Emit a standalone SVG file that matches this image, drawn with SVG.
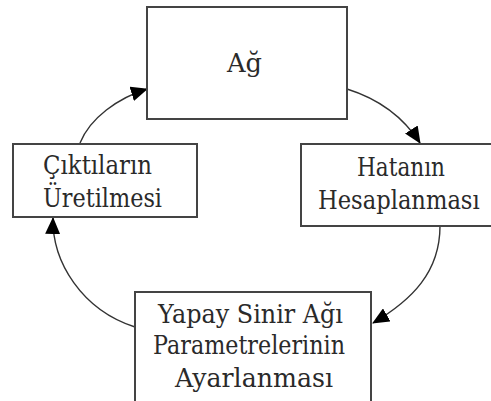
<svg xmlns="http://www.w3.org/2000/svg" width="491" height="401" viewBox="0 0 491 401">
<style>
.box{fill:#fff;stroke:#444;stroke-width:2}
.lbl{font-family:'DejaVu Serif','Liberation Serif',serif;font-size:26px;fill:#2a2a2a}
.conn{fill:none;stroke:#333;stroke-width:1.4}
</style>
<defs>
<marker id="ah" markerUnits="userSpaceOnUse" markerWidth="17" markerHeight="15" viewBox="0 0 17 15" refX="16" refY="7.5" orient="auto">
<path d="M0,0 L17,7.5 L0,15 z" fill="#000"/>
</marker>
</defs>
<rect width="491" height="401" fill="#fff"/>
<g id="connectors">
<path class="conn" d="M347,89 Q395,104 420,143" marker-end="url(#ah)"/>
<path class="conn" d="M440,226 C440,272 412,300 373,323" marker-end="url(#ah)"/>
<path class="conn" d="M135,327 C82,310 52,262 53,218" marker-end="url(#ah)"/>
<path class="conn" d="M80,143 C90,118 118,98 147,89" marker-end="url(#ah)"/>
</g>
<g id="node-ag">
<rect class="box" x="147" y="7" width="200" height="112"/>
<text class="lbl" x="227" y="72" textLength="35" lengthAdjust="spacingAndGlyphs">Ağ</text>
</g>
<g id="node-hata">
<rect class="box" x="301" y="144" width="191" height="82"/>
<text class="lbl" x="357" y="176" textLength="88" lengthAdjust="spacingAndGlyphs">Hatanın</text>
<text class="lbl" transform="translate(318,209) scale(0.87,1)" x="0" y="0">Hesaplanması</text>
</g>
<g id="node-param">
<rect class="box" x="135" y="292" width="236" height="115"/>
<text class="lbl" x="158" y="323" textLength="185" lengthAdjust="spacingAndGlyphs">Yapay Sinir Ağı</text>
<text class="lbl" x="153" y="354" textLength="192" lengthAdjust="spacingAndGlyphs">Parametrelerinin</text>
<text class="lbl" x="175" y="387" textLength="158" lengthAdjust="spacingAndGlyphs">Ayarlanması</text>
</g>
<g id="node-cikti">
<rect class="box" x="13" y="144" width="184" height="73"/>
<text class="lbl" x="43" y="174" textLength="109" lengthAdjust="spacingAndGlyphs">Çıktıların</text>
<text class="lbl" x="43" y="207" textLength="119" lengthAdjust="spacingAndGlyphs">Üretilmesi</text>
</g>
</svg>
